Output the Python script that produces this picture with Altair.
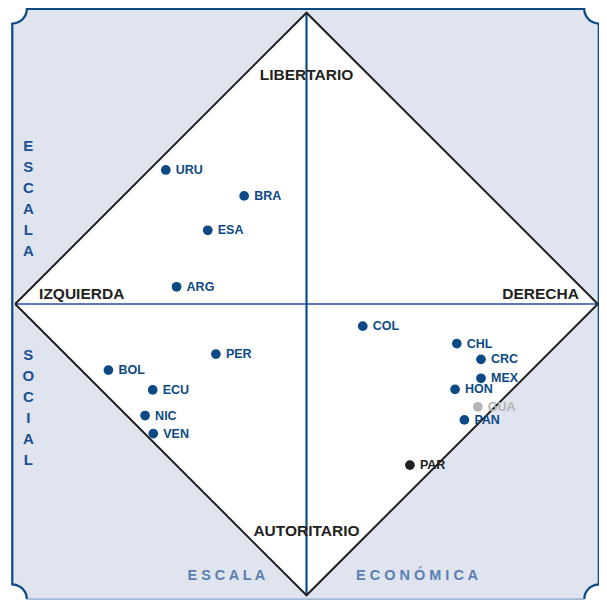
import altair as alt
import pandas as pd
import numpy as np

# ---- data (economic: izquierda -10 .. derecha +10 ; social: autoritario -10 .. libertario +10)
countries = ["URU", "BRA", "ESA", "ARG", "COL", "PER", "CHL", "CRC", "BOL",
             "MEX", "ECU", "HON", "GUA", "NIC", "PAN", "VEN", "PAR"]
economic = [-4.83, -2.14, -3.39, -4.46, 1.93, -3.11, 5.16, 5.99, -6.80,
            5.99, -5.28, 5.10, 5.88, -5.54, 5.42, -5.26, 3.55]
social = [4.60, 3.71, 2.53, 0.59, -0.76, -1.72, -1.36, -1.90, -2.27,
          -2.55, -2.95, -2.93, -3.53, -3.83, -3.98, -4.45, -5.53]
tone = ["azul", "azul", "azul", "azul", "azul", "azul", "azul", "azul", "azul",
        "azul", "azul", "azul", "gris", "azul", "azul", "azul", "negro"]

pole_text = ["LIBERTARIO", "AUTORITARIO", "IZQUIERDA", "DERECHA"]
pole_x = [0.0, 0.0, -9.18, 9.35]
pole_y = [7.69, -7.96, 0.17, 0.17]
pole_align = ["center", "center", "left", "right"]

axis_title_bottom = ["E S C A L A", "E C O N Ó M I C A"]
axis_title_bottom_x = [-2.75, 3.79]
axis_title_side = ["E\nS\nC\nA\nL\nA", "S\nO\nC\nI\nA\nL"]
axis_title_side_y = [5.43, -1.75]

# ---- geometry helpers
FONT = "Liberation Sans"
W, H = 591, 593
xs = alt.Scale(domain=[-10.247, 10.041], nice=False, zero=False)
ys = alt.Scale(domain=[-10.196, 10.161], nice=False, zero=False)

L, R, T, B, r = -10.10, 10.035, 10.13, -10.13, 0.5


def X(f, **kw):
    return alt.X(f, type="quantitative", scale=xs, axis=None, **kw)


def Y(f, **kw):
    return alt.Y(f, type="quantitative", scale=ys, axis=None, **kw)


# background frame fill
bg = alt.Chart(pd.DataFrame({"x": [L], "x2": [R], "y": [B], "y2": [T]})).mark_rect(
    color="#dfe4ef").encode(x=X("x"), x2="x2", y=Y("y"), y2="y2")

# notched corners (white)
corners = alt.Chart(pd.DataFrame({"x": [L, L, R, R], "y": [B, T, T, B]})).mark_circle(
    size=660, color="white", opacity=1).encode(x=X("x"), y=Y("y"))

# white diamond
diamond = alt.Chart(pd.DataFrame({"x": [-10, 0, 10], "y": [0, -10, 0], "y2": [0, 10, 0]})).mark_area(
    color="white", opacity=1).encode(x=X("x"), y=Y("y"), y2="y2")

diamond_edge = alt.Chart(pd.DataFrame({
    "x": [-10, 0, 10, 0, -10], "y": [0, 10, 0, -10, 0], "o": [0, 1, 2, 3, 4]})).mark_line(
    color="#231f20", strokeWidth=2, strokeJoin="miter").encode(x=X("x"), y=Y("y"), order="o:Q")

hline = alt.Chart(pd.DataFrame({"x": [-10], "x2": [10], "y": [0]})).mark_rule(
    color="#5a7db3", strokeWidth=2).encode(x=X("x"), x2="x2", y=Y("y"))
vline = alt.Chart(pd.DataFrame({"y": [-10], "y2": [10], "x": [0]})).mark_rule(
    color="#0d4a85", strokeWidth=2.2).encode(y=Y("y"), y2="y2", x=X("x"))


def arc(cx, cy, a0, a1, n=14):
    a = np.radians(np.linspace(a0, a1, n))
    return list(zip(cx + r * np.cos(a), cy + r * np.sin(a)))


frame_pts = arc(L, B, 0, 90) + arc(L, T, -90, 0) + arc(R, T, 180, 270) + arc(R, B, 90, 180)
frame_df = pd.DataFrame({"x": [p[0] for p in frame_pts], "y": [p[1] for p in frame_pts],
                         "o": list(range(len(frame_pts)))})
frame = alt.Chart(frame_df).mark_line(color="#0d4a85", strokeWidth=2.2).encode(
    x=X("x"), y=Y("y"), order="o:Q")
frame_bottom = alt.Chart(pd.DataFrame({"x": [L + r], "x2": [R - r], "y": [B]})).mark_rule(
    color="#86a4cb", strokeWidth=1.3).encode(x=X("x"), x2="x2", y=Y("y"))

# points
pts_df = pd.DataFrame({"pais": countries, "eco": economic, "soc": social, "tono": tone})
color = alt.Color("tono:N", scale=alt.Scale(domain=["azul", "gris", "negro"],
                                            range=["#0d4a85", "#b4b4b4", "#231f20"]), legend=None)
dots = alt.Chart(pts_df).mark_circle(size=95, opacity=1).encode(x=X("eco"), y=Y("soc"), color=color)
labels = alt.Chart(pts_df).mark_text(align="left", baseline="middle", dx=10, font=FONT,
                                     fontSize=12.5, fontWeight="bold").encode(
    x=X("eco"), y=Y("soc"), text="pais:N", color=color)

# pole labels
pole_df = pd.DataFrame({"t": pole_text, "x": pole_x, "y": pole_y, "a": pole_align})
poles = []
for a in ["center", "left", "right"]:
    poles.append(alt.Chart(pole_df[pole_df.a == a]).mark_text(
        align=a, baseline="alphabetic", font=FONT, fontSize=15.5, fontWeight="bold",
        color="#231f20").encode(x=X("x"), y=Y("y"), text="t:N"))

bottom_df = pd.DataFrame({"t": axis_title_bottom, "x": axis_title_bottom_x, "y": [-9.47, -9.47]})
bottom_titles = alt.Chart(bottom_df).mark_text(
    align="center", baseline="alphabetic", font=FONT, fontSize=14.5, fontWeight="bold",
    color="#5b7fb2").encode(x=X("x"), y=Y("y"), text="t:N")

side_df = pd.DataFrame({"t": axis_title_side, "x": [-9.55, -9.55], "y": axis_title_side_y})
side_titles = alt.Chart(side_df).mark_text(
    align="center", baseline="middle", lineBreak="\n", lineHeight=21, font=FONT,
    fontSize=15, fontWeight="bold", color="#1b5191").encode(x=X("x"), y=Y("y"), text="t:N")

chart = alt.layer(
    bg, corners, diamond, hline, vline, diamond_edge, frame, frame_bottom,
    *poles, bottom_titles, side_titles, dots, labels
).properties(width=W, height=H, padding=0, autosize=alt.AutoSizeParams(type="none")
             ).configure_view(stroke=None)

chart.save("out.html", embed_options={"renderer": "svg", "actions": False})
